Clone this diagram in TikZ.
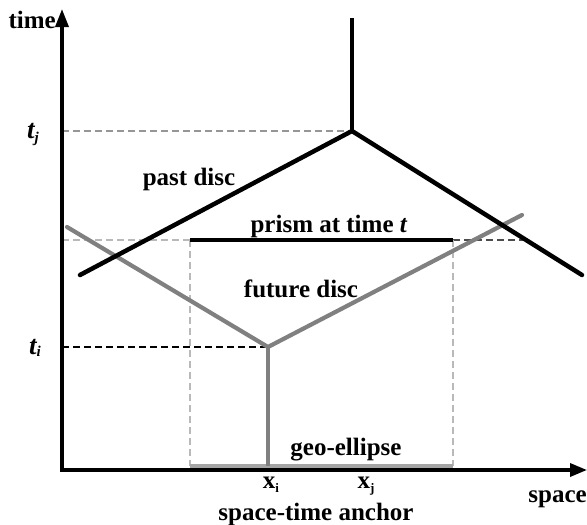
\documentclass[tikz,border=0pt]{standalone}
\usepackage{fontspec}
\setmainfont{Liberation Serif}
\usetikzlibrary{arrows.meta}
\definecolor{discgray}{RGB}{128,128,128}
\definecolor{geogray}{RGB}{165,165,165}
\definecolor{dashgray}{RGB}{150,150,150}
\definecolor{lightdash}{RGB}{185,185,185}
\begin{document}
\begin{tikzpicture}[x=1pt,y=-1pt,
  lbl/.style={anchor=base,inner sep=0pt,font=\fontsize{25}{27}\selectfont\bfseries},
  blackline/.style={line width=4.5pt,black,line cap=round},
  grayline/.style={line width=4.2pt,discgray,line cap=round},
  axisline/.style={line width=3.4pt,black},
  thindash/.style={line width=1.3pt,dash pattern=on 7pt off 4pt}]
\useasboundingbox (0,0) rectangle (587,525);
% coordinates
\coordinate (O) at (62,470);
\coordinate (ttop) at (62,9);
\coordinate (sright) at (587,470);
\coordinate (B) at (352,131);
\coordinate (Btop) at (352,18);
\coordinate (Bl) at (80,275);
\coordinate (Br) at (582,275);
\coordinate (G) at (268,347);
\coordinate (Gl) at (67,227);
\coordinate (Gr) at (522,215);
\coordinate (Gb) at (268,466);
\coordinate (tj) at (62,131);
\coordinate (ti) at (62,347);
\coordinate (pl) at (190,240);
\coordinate (pr) at (453,240);
\coordinate (pa) at (62,240);
\coordinate (pe) at (523,240);
\coordinate (el) at (190,466);
\coordinate (er) at (453,466);
% dashed guides
\draw[thindash,dashgray] (tj) -- (B);
\draw[thindash,black] (ti) -- (G);
\draw[thindash,lightdash] (pa) -- (pl);
\draw[thindash,black!70] (pr) -- (pe);
\draw[thindash,lightdash] (pl) -- (el);
\draw[thindash,lightdash] (pr) -- (er);
% axes
\draw[axisline,{Triangle[length=18pt,width=13pt]}-{Triangle[length=17pt,width=13pt]}] (ttop) -- (O) -- (sright);
% geo-ellipse
\draw[line width=4pt,geogray] (el) -- (er);
% future disc (gray)
\draw[grayline,line cap=butt] (G) -- (Gb);
\draw[grayline,line join=miter] (Gl) -- (G) -- (Gr);
% past disc (black)
\draw[blackline,line cap=butt] (B) -- (Btop);
\draw[blackline,line join=miter] (Bl) -- (B) -- (Br);
% prism
\draw[line width=4.5pt,black] (pl) -- (pr);
% labels
\node[lbl,anchor=base east] (time) at (56,28) {time};
\node[lbl] (tjl) at (33,138) {\fontsize{27}{29}\selectfont\itshape t\raisebox{-0.35ex}{\fontsize{15}{15}\selectfont j}};
\node[lbl] (til) at (35,354) {\fontsize{27}{29}\selectfont\itshape t\raisebox{-0.2ex}{\fontsize{15}{15}\selectfont i}};
\node[lbl] (past) at (189,185) {past disc};
\node[lbl] (prism) at (329,232) {prism at time \textit{t}};
\node[lbl] (future) at (301,297) {future disc};
\node[lbl] (geo) at (346,455) {geo-ellipse};
\node[lbl] (xi) at (271,488) {x\raisebox{-0.35ex}{\fontsize{13}{13}\selectfont i}};
\node[lbl] (xj) at (366,488) {x\raisebox{-0.35ex}{\fontsize{13}{13}\selectfont j}};
\node[lbl,anchor=base east] (space) at (587,502) {space};
\node[lbl] (anchor) at (316,520) {space-time anchor};
\end{tikzpicture}
\end{document}
